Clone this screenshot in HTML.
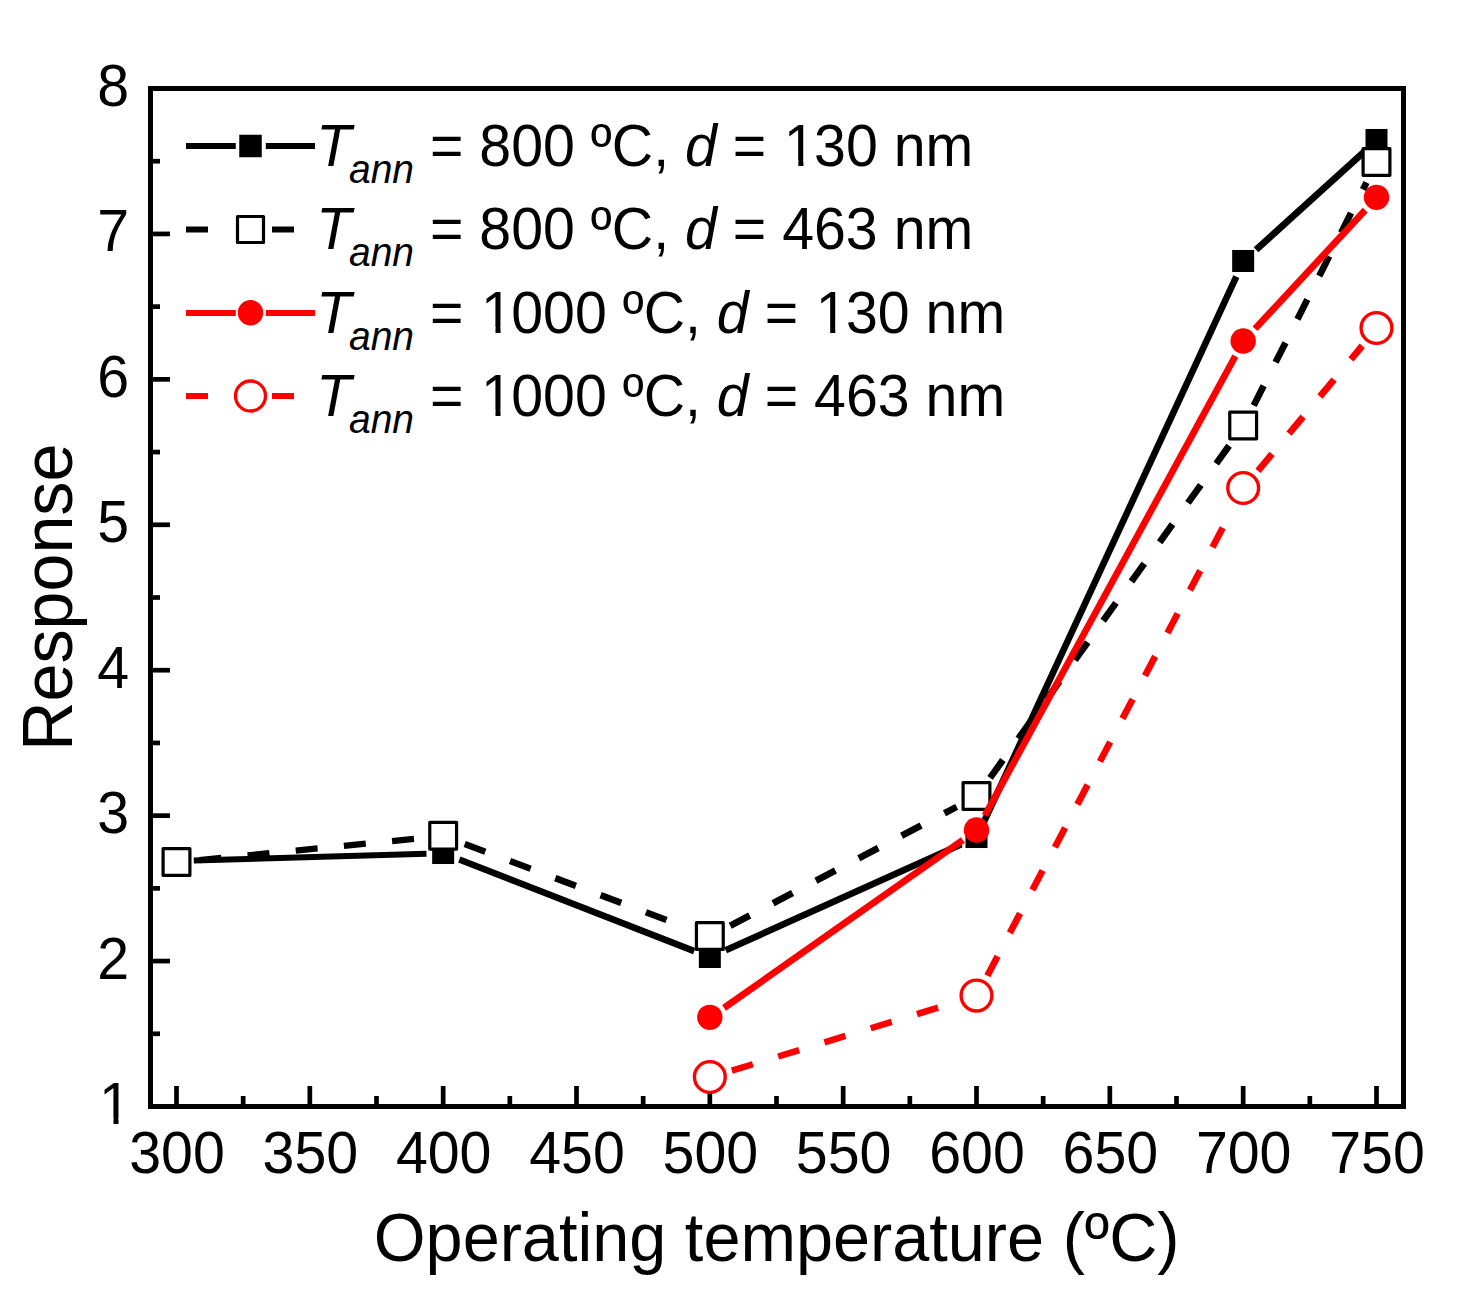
<!DOCTYPE html>
<html lang="en">
<head>
<meta charset="utf-8">
<title>Response vs operating temperature</title>
<style>
html,body{margin:0;padding:0;background:#fff;}
body{width:1462px;height:1315px;overflow:hidden;}
svg{display:block;}
text{font-family:"Liberation Sans", sans-serif;fill:#000;}
.tk{font-size:57.3px;}
.tt{font-size:67px;}
.it{font-style:italic;}
.sub{font-size:39px;font-style:italic;}
</style>
</head>
<body>
<svg width="1462" height="1315" viewBox="0 0 1462 1315">
<rect x="0" y="0" width="1462" height="1315" fill="#fff"/>
<g id="axes" stroke="#000" fill="none">
<line x1="176.50" y1="1104.50" x2="176.50" y2="1086.00" stroke-width="4.7"/>
<line x1="243.17" y1="1104.50" x2="243.17" y2="1096.00" stroke-width="4.7"/>
<line x1="309.83" y1="1104.50" x2="309.83" y2="1086.00" stroke-width="4.7"/>
<line x1="376.50" y1="1104.50" x2="376.50" y2="1096.00" stroke-width="4.7"/>
<line x1="443.17" y1="1104.50" x2="443.17" y2="1086.00" stroke-width="4.7"/>
<line x1="509.83" y1="1104.50" x2="509.83" y2="1096.00" stroke-width="4.7"/>
<line x1="576.50" y1="1104.50" x2="576.50" y2="1086.00" stroke-width="4.7"/>
<line x1="643.17" y1="1104.50" x2="643.17" y2="1096.00" stroke-width="4.7"/>
<line x1="709.83" y1="1104.50" x2="709.83" y2="1086.00" stroke-width="4.7"/>
<line x1="776.50" y1="1104.50" x2="776.50" y2="1096.00" stroke-width="4.7"/>
<line x1="843.17" y1="1104.50" x2="843.17" y2="1086.00" stroke-width="4.7"/>
<line x1="909.83" y1="1104.50" x2="909.83" y2="1096.00" stroke-width="4.7"/>
<line x1="976.50" y1="1104.50" x2="976.50" y2="1086.00" stroke-width="4.7"/>
<line x1="1043.17" y1="1104.50" x2="1043.17" y2="1096.00" stroke-width="4.7"/>
<line x1="1109.83" y1="1104.50" x2="1109.83" y2="1086.00" stroke-width="4.7"/>
<line x1="1176.50" y1="1104.50" x2="1176.50" y2="1096.00" stroke-width="4.7"/>
<line x1="1243.17" y1="1104.50" x2="1243.17" y2="1086.00" stroke-width="4.7"/>
<line x1="1309.83" y1="1104.50" x2="1309.83" y2="1096.00" stroke-width="4.7"/>
<line x1="1376.50" y1="1104.50" x2="1376.50" y2="1086.00" stroke-width="4.7"/>
<line x1="152.50" y1="1106.50" x2="170.00" y2="1106.50" stroke-width="4.7"/>
<line x1="152.50" y1="1033.79" x2="160.00" y2="1033.79" stroke-width="4.7"/>
<line x1="152.50" y1="961.07" x2="170.00" y2="961.07" stroke-width="4.7"/>
<line x1="152.50" y1="888.36" x2="160.00" y2="888.36" stroke-width="4.7"/>
<line x1="152.50" y1="815.64" x2="170.00" y2="815.64" stroke-width="4.7"/>
<line x1="152.50" y1="742.93" x2="160.00" y2="742.93" stroke-width="4.7"/>
<line x1="152.50" y1="670.21" x2="170.00" y2="670.21" stroke-width="4.7"/>
<line x1="152.50" y1="597.50" x2="160.00" y2="597.50" stroke-width="4.7"/>
<line x1="152.50" y1="524.79" x2="170.00" y2="524.79" stroke-width="4.7"/>
<line x1="152.50" y1="452.07" x2="160.00" y2="452.07" stroke-width="4.7"/>
<line x1="152.50" y1="379.36" x2="170.00" y2="379.36" stroke-width="4.7"/>
<line x1="152.50" y1="306.64" x2="160.00" y2="306.64" stroke-width="4.7"/>
<line x1="152.50" y1="233.93" x2="170.00" y2="233.93" stroke-width="4.7"/>
<line x1="152.50" y1="161.21" x2="160.00" y2="161.21" stroke-width="4.7"/>
<rect x="150.5" y="88.5" width="1253.0" height="1018.0" stroke-width="5"/>
</g>
<g id="series-800-130">
<line x1="193.79" y1="860.53" x2="426.47" y2="853.81" stroke="#000" stroke-width="6.05"/>
<line x1="459.31" y1="859.49" x2="694.29" y2="951.12" stroke="#000" stroke-width="6.54"/>
<line x1="725.64" y1="950.32" x2="961.30" y2="844.30" stroke="#000" stroke-width="6.6"/>
<line x1="983.94" y1="821.89" x2="1236.33" y2="276.71" stroke="#000" stroke-width="6.61"/>
<line x1="1256.06" y1="249.85" x2="1364.21" y2="151.71" stroke="#000" stroke-width="6.8"/>
<rect x="165.50" y="849.73" width="22" height="22" fill="#000"/>
<rect x="432.17" y="842.02" width="22" height="22" fill="#000"/>
<rect x="698.83" y="946.00" width="22" height="22" fill="#000"/>
<rect x="965.50" y="826.02" width="22" height="22" fill="#000"/>
<rect x="1232.17" y="249.98" width="22" height="22" fill="#000"/>
<rect x="1365.50" y="128.98" width="22" height="22" fill="#000"/>
</g>
<g id="series-800-463">
<line x1="199.39" y1="860.10" x2="420.88" y2="838.24" stroke="#000" stroke-width="6.16" stroke-dasharray="22 26.4"/>
<line x1="464.71" y1="844.01" x2="688.89" y2="928.36" stroke="#000" stroke-width="6.53" stroke-dasharray="22 26.4"/>
<line x1="730.23" y1="925.80" x2="956.70" y2="806.86" stroke="#000" stroke-width="6.66" stroke-dasharray="22 26.4"/>
<line x1="990.06" y1="777.89" x2="1230.21" y2="444.18" stroke="#000" stroke-width="6.76" stroke-dasharray="22 26.4"/>
<line x1="1253.72" y1="405.50" x2="1366.55" y2="182.50" stroke="#000" stroke-width="6.64" stroke-dasharray="22 26.4"/>
<rect x="163.10" y="848.63" width="26.8" height="26.8" fill="#fff" stroke="#000" stroke-width="3.2" stroke-linejoin="round"/>
<rect x="429.77" y="822.31" width="26.8" height="26.8" fill="#fff" stroke="#000" stroke-width="3.2" stroke-linejoin="round"/>
<rect x="696.43" y="922.66" width="26.8" height="26.8" fill="#fff" stroke="#000" stroke-width="3.2" stroke-linejoin="round"/>
<rect x="963.10" y="782.61" width="26.8" height="26.8" fill="#fff" stroke="#000" stroke-width="3.2" stroke-linejoin="round"/>
<rect x="1229.77" y="412.06" width="26.8" height="26.8" fill="#fff" stroke="#000" stroke-width="3.2" stroke-linejoin="round"/>
<rect x="1363.10" y="148.54" width="26.8" height="26.8" fill="#fff" stroke="#000" stroke-width="3.2" stroke-linejoin="round"/>
</g>
<g id="series-1000-130">
<line x1="724.04" y1="1007.88" x2="962.89" y2="840.11" stroke="#f00" stroke-width="6.75"/>
<line x1="984.94" y1="815.41" x2="1235.33" y2="356.19" stroke="#f00" stroke-width="6.67"/>
<line x1="1255.03" y1="328.81" x2="1365.23" y2="210.11" stroke="#f00" stroke-width="6.8"/>
<circle cx="709.83" cy="1017.35" r="12.7" fill="#f00"/>
<circle cx="976.50" cy="830.04" r="12.7" fill="#f00"/>
<circle cx="1243.17" cy="340.96" r="12.7" fill="#f00"/>
<circle cx="1376.50" cy="197.35" r="12.7" fill="#f00"/>
</g>
<g id="series-1000-463">
<line x1="731.84" y1="1070.65" x2="955.09" y2="1002.47" stroke="#f00" stroke-width="6.45" stroke-dasharray="22 26.4"/>
<line x1="987.36" y1="975.74" x2="1232.91" y2="508.39" stroke="#f00" stroke-width="6.66" stroke-dasharray="22 26.4"/>
<line x1="1258.00" y1="470.85" x2="1362.27" y2="345.76" stroke="#f00" stroke-width="6.79" stroke-dasharray="22 26.4"/>
<circle cx="709.83" cy="1076.98" r="15.4" fill="#fff" stroke="#f00" stroke-width="3.4"/>
<circle cx="976.50" cy="995.54" r="15.4" fill="#fff" stroke="#f00" stroke-width="3.4"/>
<circle cx="1243.17" cy="487.99" r="15.4" fill="#fff" stroke="#f00" stroke-width="3.4"/>
<circle cx="1376.50" cy="328.02" r="15.4" fill="#fff" stroke="#f00" stroke-width="3.4"/>
</g>
<g id="xticklabels" class="tk" text-anchor="middle">
<text transform="translate(177.00,1173.2) scale(1,1.028)">300</text>
<text transform="translate(310.33,1173.2) scale(1,1.028)">350</text>
<text transform="translate(443.67,1173.2) scale(1,1.028)">400</text>
<text transform="translate(577.00,1173.2) scale(1,1.028)">450</text>
<text transform="translate(710.33,1173.2) scale(1,1.028)">500</text>
<text transform="translate(843.67,1173.2) scale(1,1.028)">550</text>
<text transform="translate(977.00,1173.2) scale(1,1.028)">600</text>
<text transform="translate(1110.33,1173.2) scale(1,1.028)">650</text>
<text transform="translate(1243.67,1173.2) scale(1,1.028)">700</text>
<text transform="translate(1377.00,1173.2) scale(1,1.028)">750</text>
</g>
<g id="yticklabels" class="tk" text-anchor="end">
<text transform="translate(130.90,1124.00) scale(1,1.028)">1</text>
<text transform="translate(129.20,978.57) scale(1,1.028)">2</text>
<text transform="translate(129.20,833.14) scale(1,1.028)">3</text>
<text transform="translate(129.20,687.71) scale(1,1.028)">4</text>
<text transform="translate(129.20,542.29) scale(1,1.028)">5</text>
<text transform="translate(129.20,396.86) scale(1,1.028)">6</text>
<text transform="translate(129.20,251.43) scale(1,1.028)">7</text>
<text transform="translate(129.20,106.00) scale(1,1.028)">8</text>
</g>
<rect x="102.40" y="1118.30" width="11.04" height="6.90" fill="#fff"/>
<rect x="118.51" y="1118.30" width="10.60" height="6.90" fill="#fff"/>
<text class="tt" style="font-size:66.65px" text-anchor="middle" transform="translate(776.6,1260.5) scale(1,1.025)">Operating temperature (ºC)</text>
<text class="tt" style="font-size:68.2px" text-anchor="middle" transform="translate(72.3,597.2) rotate(-90) scale(1,1.03)">Response</text>
<g id="legend">
<line x1="186" y1="146" x2="235.8" y2="146" stroke="#000" stroke-width="6"/>
<line x1="265.8" y1="146" x2="315" y2="146" stroke="#000" stroke-width="6"/>
<rect x="239.25" y="134.75" width="22.5" height="22.5" fill="#000"/>
<text class="tk" transform="translate(316.3,165.80) scale(1,1.035)"><tspan class="it">T</tspan><tspan class="sub" dx="-2.3" dy="16.2">ann</tspan><tspan dy="-16.2"> = </tspan>800 ºC, <tspan class="it">d</tspan> = <tspan dx="1.7">1</tspan><tspan dx="-1.7">30</tspan> nm</text>
<line x1="186" y1="229.5" x2="229.0" y2="229.5" stroke="#000" stroke-width="6" stroke-dasharray="22 26.4"/>
<line x1="272.0" y1="229.5" x2="315" y2="229.5" stroke="#000" stroke-width="6" stroke-dasharray="22 26.4"/>
<rect x="237.50" y="216.50" width="26" height="26" fill="#fff" stroke="#000" stroke-width="3.2" stroke-linejoin="round"/>
<text class="tk" transform="translate(316.3,249.30) scale(1,1.035)"><tspan class="it">T</tspan><tspan class="sub" dx="-2.3" dy="16.2">ann</tspan><tspan dy="-16.2"> = </tspan>800 ºC, <tspan class="it">d</tspan> = 463 nm</text>
<line x1="186" y1="313" x2="235.8" y2="313" stroke="#f00" stroke-width="6"/>
<line x1="265.8" y1="313" x2="315" y2="313" stroke="#f00" stroke-width="6"/>
<circle cx="250.50" cy="312.70" r="12.7" fill="#f00"/>
<text class="tk" transform="translate(316.3,332.80) scale(1,1.035)"><tspan class="it">T</tspan><tspan class="sub" dx="-2.3" dy="16.2">ann</tspan><tspan dy="-16.2"> = </tspan><tspan dx="1.7">1</tspan><tspan dx="-1.7">000</tspan> ºC, <tspan class="it">d</tspan> = <tspan dx="1.7">1</tspan><tspan dx="-1.7">30</tspan> nm</text>
<line x1="186" y1="396" x2="229.0" y2="396" stroke="#f00" stroke-width="6" stroke-dasharray="22 26.4"/>
<line x1="272.0" y1="396" x2="315" y2="396" stroke="#f00" stroke-width="6" stroke-dasharray="22 26.4"/>
<circle cx="250.50" cy="396.00" r="15" fill="#fff" stroke="#f00" stroke-width="3.3"/>
<text class="tk" transform="translate(316.3,415.80) scale(1,1.035)"><tspan class="it">T</tspan><tspan class="sub" dx="-2.3" dy="16.2">ann</tspan><tspan dy="-16.2"> = </tspan><tspan dx="1.7">1</tspan><tspan dx="-1.7">000</tspan> ºC, <tspan class="it">d</tspan> = 463 nm</text>
<rect x="787.28" y="160.07" width="11.04" height="6.93" fill="#fff"/>
<rect x="803.39" y="160.07" width="10.60" height="6.93" fill="#fff"/>
<rect x="484.44" y="327.07" width="11.04" height="6.93" fill="#fff"/>
<rect x="500.55" y="327.07" width="10.60" height="6.93" fill="#fff"/>
<rect x="819.14" y="327.07" width="11.04" height="6.93" fill="#fff"/>
<rect x="835.25" y="327.07" width="10.60" height="6.93" fill="#fff"/>
<rect x="484.44" y="410.07" width="11.04" height="6.93" fill="#fff"/>
<rect x="500.55" y="410.07" width="10.60" height="6.93" fill="#fff"/>
</g>
</svg>
</body>
</html>
